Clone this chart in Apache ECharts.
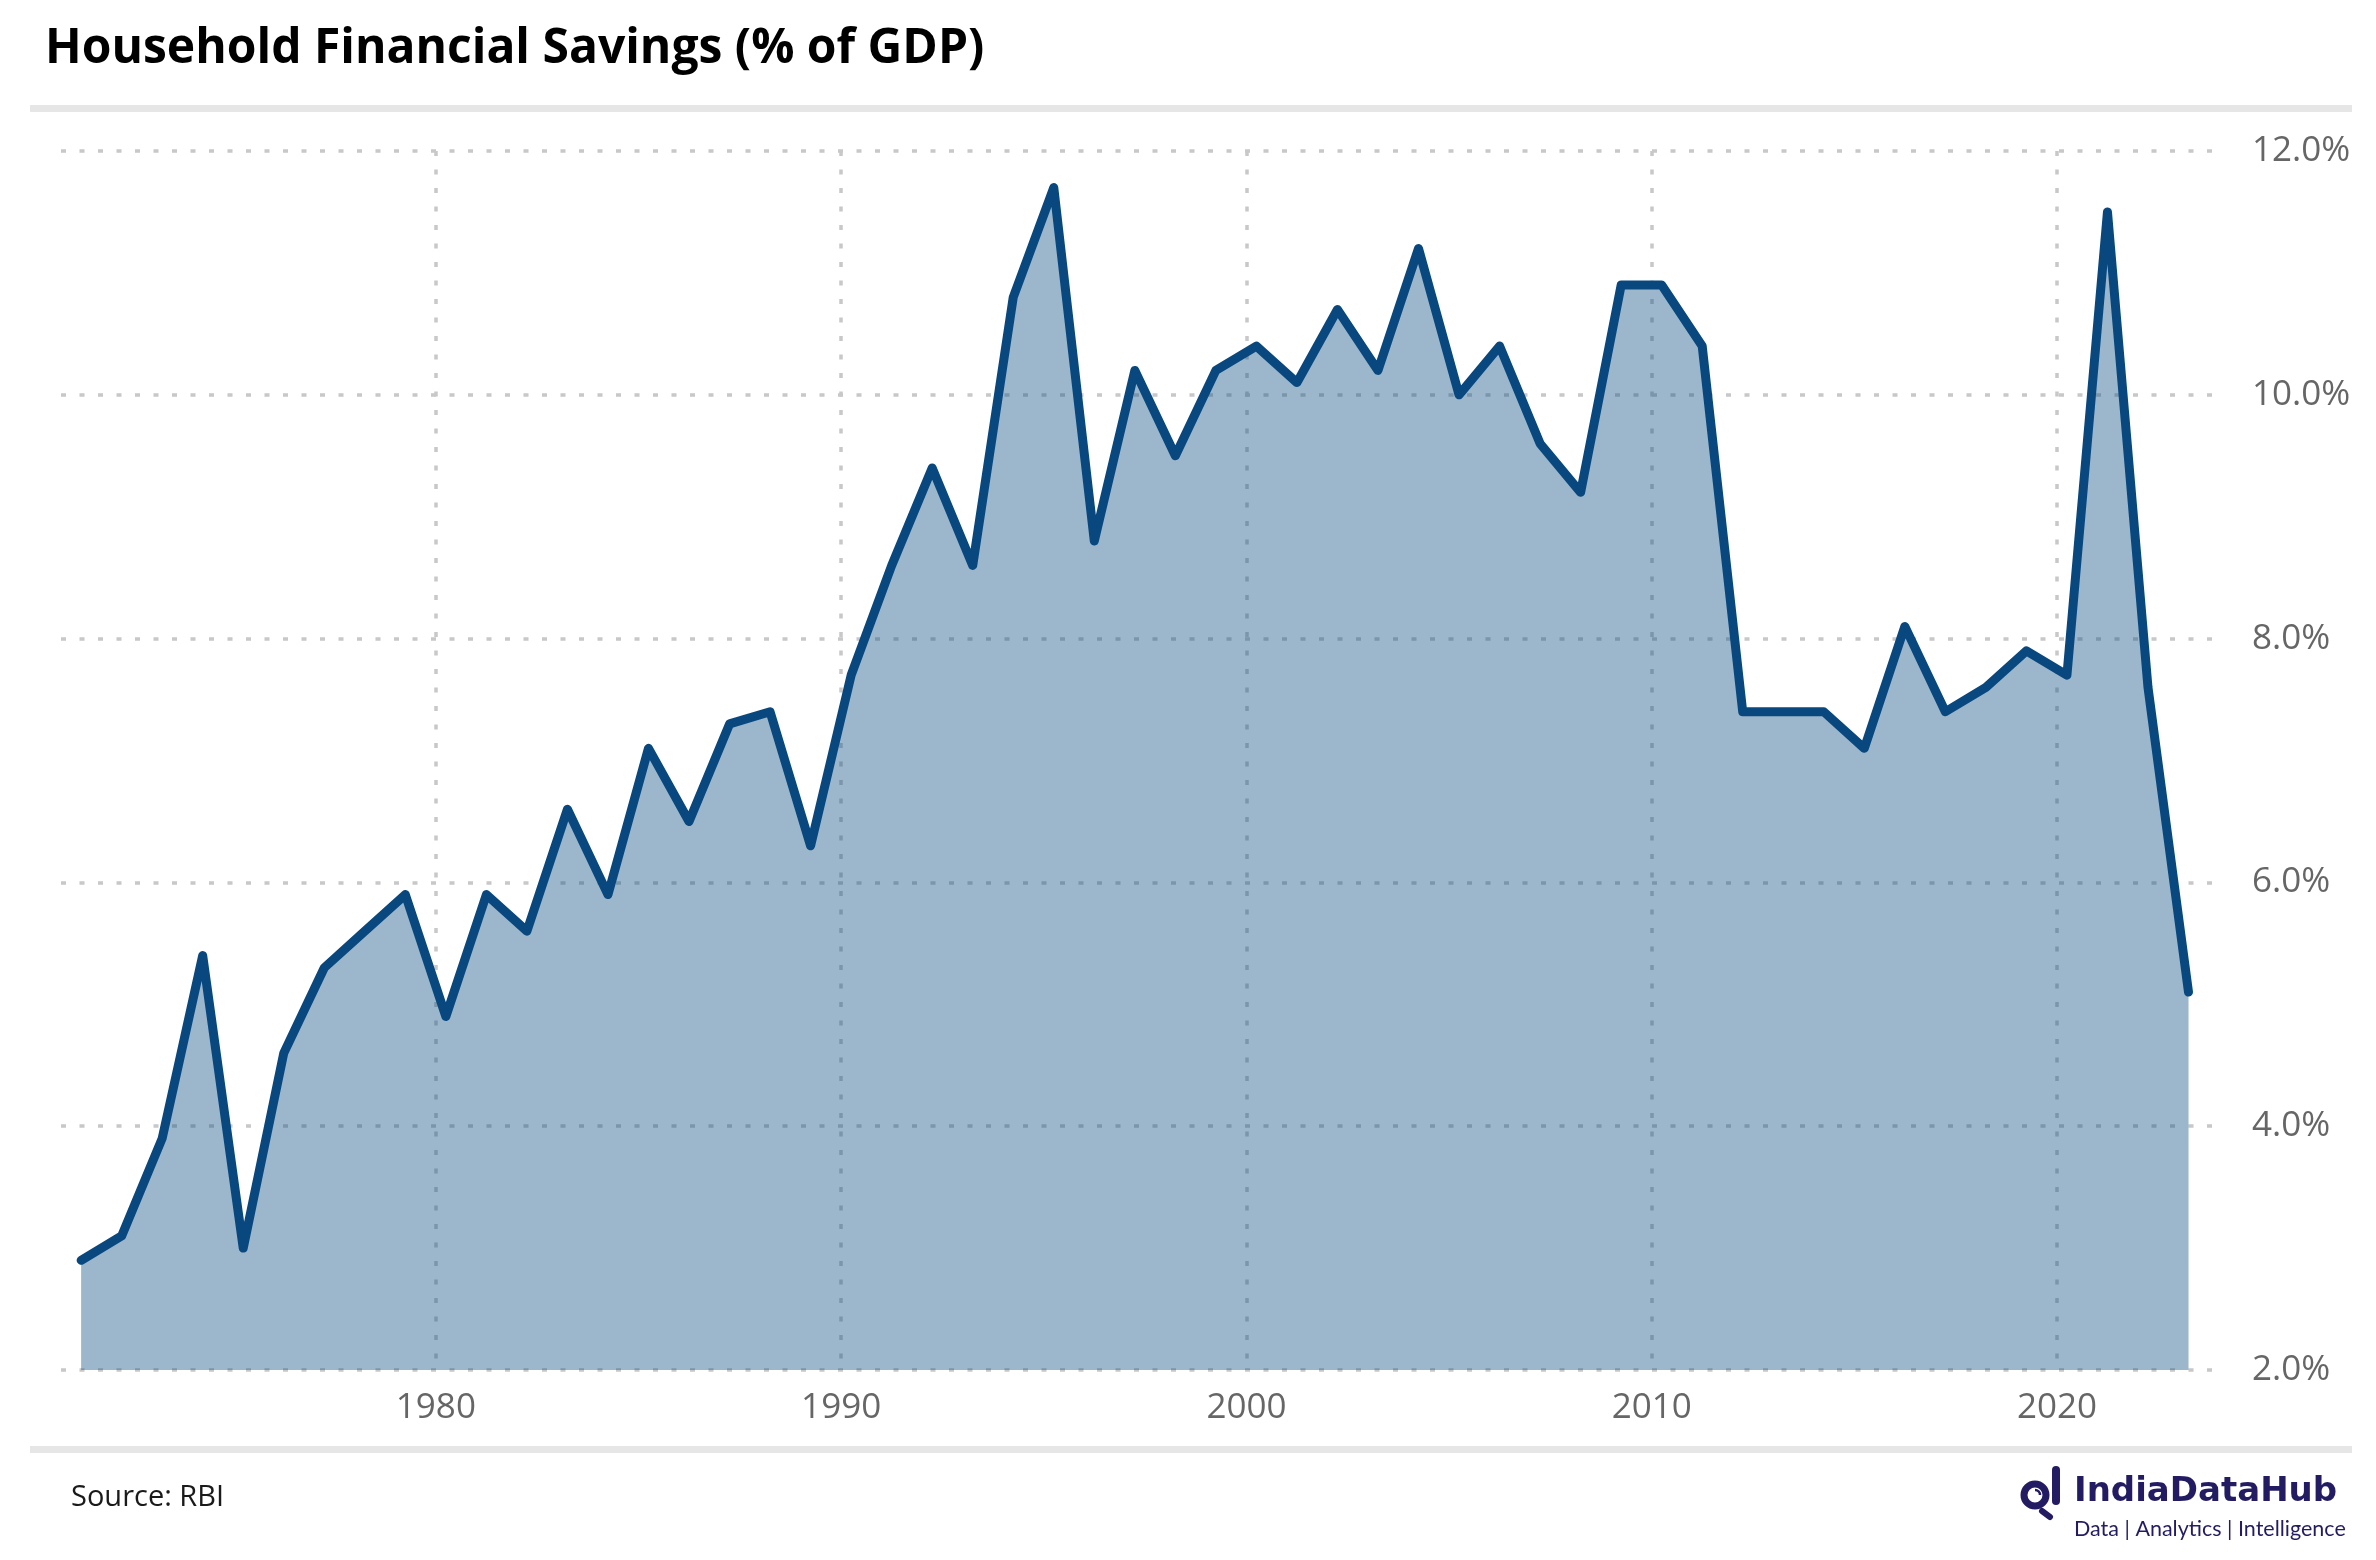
<!DOCTYPE html>
<html><head><meta charset="utf-8">
<script src="https://cdn.jsdelivr.net/npm/echarts@6/dist/echarts.min.js"></script>
<style>html,body{margin:0;padding:0;background:#fff}#c{width:2376px;height:1560px}</style>
</head><body><div id="c"></div>
<script>
// Fiscal years (ending March) and household financial savings, % of GDP
const years = [1971,1972,1973,1974,1975,1976,1977,1978,1979,1980,1981,1982,1983,1984,1985,1986,1987,1988,1989,1990,1991,1992,1993,1994,1995,1996,1997,1998,1999,2000,2001,2002,2003,2004,2005,2006,2007,2008,2009,2010,2011,2012,2013,2014,2015,2016,2017,2018,2019,2020,2021,2022,2023];
const savings = [2.9,3.1,3.9,5.4,3.0,4.6,5.3,5.6,5.9,4.9,5.9,5.6,6.6,5.9,7.1,6.5,7.3,7.4,6.3,7.7,8.6,9.4,8.6,10.8,11.7,8.8,10.2,9.5,10.2,10.4,10.1,10.7,10.2,11.2,10.0,10.4,9.6,9.2,10.9,10.9,10.4,7.4,7.4,7.4,7.1,8.1,7.4,7.6,7.9,7.7,11.5,7.6,5.1];
const xTickYears = [1980,1990,2000,2010,2020];
const yTicks = [2,4,6,8,10,12];

const titleText = 'Household Financial Savings (% of GDP)';
const sourceText = 'Source: RBI';

const lineColor = '#08487f';
const gridColor = '#c8c8c8';
const brandColor = '#231c63';

// fiscal year ends 31 March -> fraction of the calendar year
const FY_END_FRACTION = 90 / 365;
const seriesData = years.map((y, i) => [y + FY_END_FRACTION, savings[i]]);

const chart = echarts.init(document.getElementById('c'), null, {renderer: 'canvas'});
chart.setOption({
  backgroundColor: '#ffffff',
  animation: false,
  grid: {left: 61, right: 161, top: 151, bottom: 190, containLabel: false},
  xAxis: {
    type: 'value',
    min: 1970.75,
    max: 2023.9,
    axisLine: {show: false},
    axisTick: {show: false, customValues: xTickYears},
    axisLabel: {
      customValues: xTickYears,
      formatter: v => String(Math.round(v)),
      color: '#666666', fontSize: 35, fontFamily: '"Open Sans", sans-serif', margin: 21
    },
    splitLine: {show: true, lineStyle: {color: gridColor, width: 3.5, type: [5, 13.5]}}
  },
  yAxis: {
    type: 'value',
    position: 'right',
    min: 2, max: 12, interval: 2,
    axisLine: {show: false},
    axisTick: {show: false},
    axisLabel: {
      formatter: v => v.toFixed(1) + '%',
      color: '#666666', fontSize: 35, fontFamily: '"Open Sans", sans-serif', margin: 37, align: 'left'
    },
    splitLine: {show: true, lineStyle: {color: gridColor, width: 3.5, type: [5, 13.5]}}
  },
  series: [{
    type: 'line',
    data: seriesData,
    showSymbol: false,
    symbol: 'none',
    lineStyle: {color: lineColor, width: 9, join: 'round', cap: 'round'},
    areaStyle: {color: lineColor, opacity: 0.4, origin: 'start'}
  }],
  graphic: [
    {type: 'text', left: 45, top: 25, style: {text: titleText, font: 'bold 48px "Open Sans", sans-serif', fill: '#000000'}},
    {type: 'rect', shape: {x: 30, y: 105, width: 2322, height: 7}, style: {fill: '#e6e6e6'}},
    {type: 'rect', shape: {x: 30, y: 1446, width: 2322, height: 7}, style: {fill: '#e6e6e6'}},
    {type: 'text', left: 71, top: 1483, style: {text: sourceText, font: '29px "Open Sans", sans-serif', fill: '#1a1a1a'}},
    // logo icon
    {type: 'circle', shape: {cx: 2035, cy: 1495, r: 11}, style: {fill: 'none', stroke: brandColor, lineWidth: 7}},
    {type: 'rect', shape: {x: 2052, y: 1466, width: 8, height: 39, r: 4}, style: {fill: brandColor}},
    {type: 'line', shape: {x1: 2042, y1: 1511, x2: 2050, y2: 1517}, style: {stroke: brandColor, lineWidth: 6, lineCap: 'round'}},
    {type: 'arc', shape: {cx: 2035, cy: 1495, r: 5, startAngle: -Math.PI / 2, endAngle: 0}, style: {stroke: brandColor, lineWidth: 2.5, fill: 'none'}},
    {type: 'text', left: 2074, top: 1475, style: {text: 'IndiaDataHub', font: 'bold 34px "DejaVu Sans", sans-serif', fill: brandColor}},
    {type: 'text', left: 2074, top: 1518, style: {text: 'Data | Analytics | Intelligence', font: '21.5px Lato, sans-serif', fill: brandColor}}
  ]
});
</script>
</body></html>
